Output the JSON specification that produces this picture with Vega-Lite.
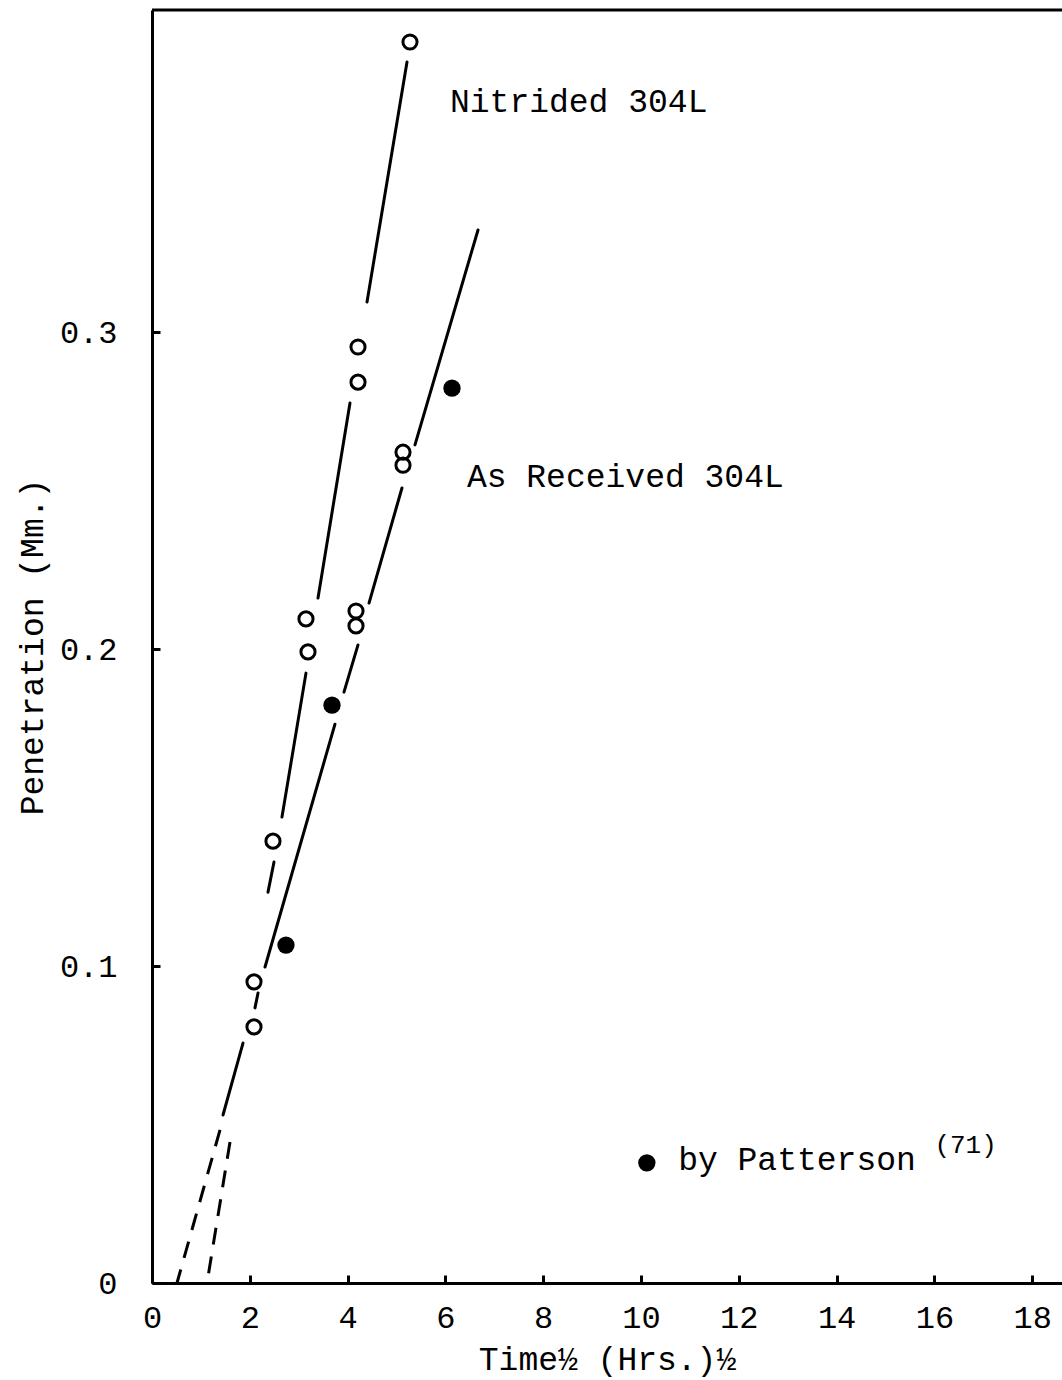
{
  "$schema": "https://vega.github.io/schema/vega-lite/v6.json",
  "width": 910,
  "height": 1273,
  "autosize": "none",
  "padding": {"left": 152, "top": 10, "right": 0, "bottom": 97},
  "background": "white",
  "config": {
    "view": {"stroke": null},
    "font": "Liberation Mono",
    "axis": {
      "grid": false,
      "domainColor": "black",
      "domainWidth": 3,
      "tickColor": "black",
      "tickWidth": 3,
      "tickSize": -8,
      "labelColor": "black",
      "labelFont": "Liberation Mono",
      "labelFontSize": 32,
      "labelFlush": false,
      "labelOverlap": false,
      "titleColor": "black",
      "titleFont": "Liberation Mono",
      "titleFontSize": 33,
      "titleFontWeight": "normal"
    }
  },
  "datasets": {
    "points": [
      {"t": 5.276, "p": 0.3915, "kind": "open"},
      {"t": 4.213, "p": 0.2953, "kind": "open"},
      {"t": 4.213, "p": 0.2842, "kind": "open"},
      {"t": 3.149, "p": 0.2095, "kind": "open"},
      {"t": 3.19, "p": 0.1991, "kind": "open"},
      {"t": 2.474, "p": 0.1394, "kind": "open"},
      {"t": 5.133, "p": 0.2621, "kind": "open"},
      {"t": 5.133, "p": 0.258, "kind": "open"},
      {"t": 4.172, "p": 0.212, "kind": "open"},
      {"t": 4.172, "p": 0.2073, "kind": "open"},
      {"t": 2.086, "p": 0.095, "kind": "open"},
      {"t": 2.086, "p": 0.0808, "kind": "open"},
      {"t": 6.135, "p": 0.2823, "kind": "filled"},
      {"t": 3.681, "p": 0.1823, "kind": "filled"},
      {"t": 2.74, "p": 0.1066, "kind": "filled"},
      {"t": 10.12, "p": 0.0379, "kind": "legend"}
    ],
    "segments": [
      {"series": "Nitrided", "style": "solid", "t": 5.215, "p": 0.3852, "t2": 4.397, "p2": 0.3095},
      {"series": "Nitrided", "style": "solid", "t": 4.049, "p": 0.2776, "t2": 3.395, "p2": 0.2161},
      {"series": "Nitrided", "style": "solid", "t": 3.149, "p": 0.1924, "t2": 2.658, "p2": 0.147},
      {"series": "Nitrided", "style": "solid", "t": 2.495, "p": 0.1328, "t2": 2.372, "p2": 0.1233},
      {"series": "Nitrided", "style": "dashed", "t": 1.595, "p": 0.0445, "t2": 1.125, "p2": 0},
      {"series": "As Received", "style": "solid", "t": 6.667, "p": 0.3322, "t2": 5.378, "p2": 0.2644},
      {"series": "As Received", "style": "solid", "t": 5.112, "p": 0.2508, "t2": 4.438, "p2": 0.2145},
      {"series": "As Received", "style": "solid", "t": 4.213, "p": 0.2013, "t2": 3.926, "p2": 0.1864},
      {"series": "As Received", "style": "solid", "t": 3.742, "p": 0.1763, "t2": 2.311, "p2": 0.0997},
      {"series": "As Received", "style": "solid", "t": 2.168, "p": 0.0915, "t2": 2.106, "p2": 0.0868},
      {"series": "As Received", "style": "solid", "t": 1.861, "p": 0.0757, "t2": 1.452, "p2": 0.053},
      {"series": "As Received", "style": "dashed", "t": 1.391, "p": 0.0483, "t2": 0.511, "p2": 0}
    ],
    "frame": [
      {"t": 0, "p": 0.4016, "t2": 18.61}
    ],
    "labels": [
      {"t": 6.094, "p": 0.3726, "text": "Nitrided 304L", "size": 33},
      {"t": 6.44, "p": 0.2543, "text": "As Received 304L", "size": 33},
      {"t": 10.76, "p": 0.0388, "text": "by Patterson", "size": 33},
      {"t": 16.0, "p": 0.0435, "text": "(71)", "size": 26}
    ]
  },
  "layer": [
    {
      "data": {"name": "segments"},
      "transform": [{"filter": "datum.style == 'solid'"}],
      "mark": {"type": "rule", "color": "black", "strokeWidth": 3, "strokeCap": "round"},
      "encoding": {
        "x": {
          "field": "t", "type": "quantitative",
          "scale": {"domain": [0, 18.61], "nice": false, "zero": false},
          "axis": {
            "orient": "bottom",
            "values": [0, 2, 4, 6, 8, 10, 12, 14, 16, 18],
            "labelPadding": 27,
            "title": "Time½ (Hrs.)½",
            "titlePadding": 10
          }
        },
        "y": {
          "field": "p", "type": "quantitative",
          "scale": {"domain": [0, 0.4016], "nice": false},
          "axis": {
            "values": [0, 0.1, 0.2, 0.3],
            "labelExpr": "datum.value == 0 ? '0' : format(datum.value, '.1f')",
            "labelPadding": 43,
            "title": "Penetration (Mm.)",
            "titlePadding": 10
          }
        },
        "x2": {"field": "t2"},
        "y2": {"field": "p2"}
      }
    },
    {
      "data": {"name": "segments"},
      "transform": [{"filter": "datum.style == 'dashed'"}],
      "mark": {"type": "rule", "color": "black", "strokeWidth": 3, "strokeDash": [17, 12]},
      "encoding": {
        "x": {"field": "t", "type": "quantitative"},
        "y": {"field": "p", "type": "quantitative"},
        "x2": {"field": "t2"},
        "y2": {"field": "p2"}
      }
    },
    {
      "data": {"name": "frame"},
      "mark": {"type": "rule", "color": "black", "strokeWidth": 3},
      "encoding": {
        "x": {"field": "t", "type": "quantitative"},
        "x2": {"field": "t2"},
        "y": {"field": "p", "type": "quantitative"}
      }
    },
    {
      "data": {"name": "points"},
      "transform": [{"filter": "datum.kind == 'open'"}],
      "mark": {"type": "point", "shape": "circle", "filled": false, "color": "black", "strokeWidth": 3, "size": 200, "opacity": 1},
      "encoding": {
        "x": {"field": "t", "type": "quantitative"},
        "y": {"field": "p", "type": "quantitative"}
      }
    },
    {
      "data": {"name": "points"},
      "transform": [{"filter": "datum.kind != 'open'"}],
      "mark": {"type": "point", "shape": "circle", "filled": true, "color": "black", "size": 300, "opacity": 1},
      "encoding": {
        "x": {"field": "t", "type": "quantitative"},
        "y": {"field": "p", "type": "quantitative"}
      }
    },
    {
      "data": {"name": "labels"},
      "mark": {"type": "text", "align": "left", "baseline": "middle", "font": "Liberation Mono", "color": "black"},
      "encoding": {
        "x": {"field": "t", "type": "quantitative"},
        "y": {"field": "p", "type": "quantitative"},
        "text": {"field": "text"},
        "size": {"field": "size", "type": "quantitative", "scale": null}
      }
    }
  ]
}
